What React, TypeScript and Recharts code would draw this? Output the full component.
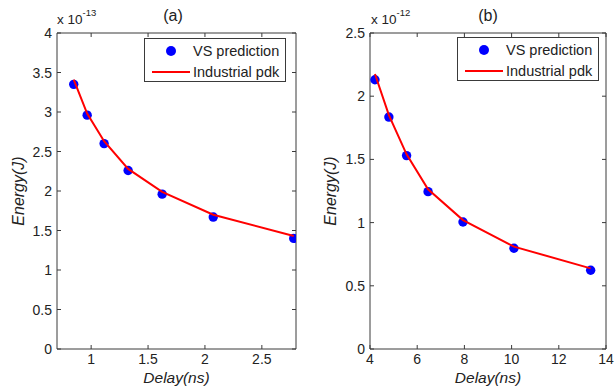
import { ScatterChart, Scatter, XAxis, YAxis, Label } from 'recharts';

// panel (a): energy in units of 1e-13 J
const delayA = [0.847, 0.965, 1.114, 1.325, 1.624, 2.073, 2.78];
const vsA = [3.35, 2.96, 2.6, 2.26, 1.96, 1.67, 1.4];
const pdkA = [3.41, 2.98, 2.63, 2.28, 1.99, 1.7, 1.43];
const xTicksA = [1, 1.5, 2, 2.5];
const yTicksA = [0, 0.5, 1, 1.5, 2, 2.5, 3, 3.5, 4];

// panel (b): energy in units of 1e-12 J
const delayB = [4.21, 4.8, 5.55, 6.46, 7.94, 10.1, 13.35];
const vsB = [2.13, 1.835, 1.53, 1.245, 1.005, 0.797, 0.623];
const pdkB = [2.176, 1.85, 1.54, 1.264, 1.02, 0.81, 0.638];
const xTicksB = [4, 6, 8, 10, 12, 14];
const yTicksB = [0, 0.5, 1, 1.5, 2, 2.5];

const seriesNames = ['VS prediction', 'Industrial pdk'];

const FONT = '"Liberation Sans", Arial, sans-serif';
const AXIS = '#3a3a3a';
const TEXT = '#222';
const DOT = '#0000ff';
const LINE = '#ff0000';
const TICK = 4;

const zip = (xs: number[], ys: number[]) => xs.map((x, i) => ({ x, y: ys[i] }));

function BottomTick({ x, y, payload }: any) {
  return (
    <g>
      <line x1={x} x2={x} y1={y} y2={y - TICK} stroke={AXIS} />
      <text x={x} y={y + 15} textAnchor="middle" fontSize={14} fill={TEXT} fontFamily={FONT}>
        {payload.value}
      </text>
    </g>
  );
}

function LeftTick({ x, y, payload }: any) {
  return (
    <g>
      <line x1={x} x2={x + TICK} y1={y} y2={y} stroke={AXIS} />
      <text x={x - 5} y={y + 5} textAnchor="end" fontSize={14} fill={TEXT} fontFamily={FONT}>
        {payload.value}
      </text>
    </g>
  );
}

const TopTick = ({ x, y }: any) => <line x1={x} x2={x} y1={y} y2={y + TICK} stroke={AXIS} />;
const RightTick = ({ x, y }: any) => <line x1={x} x2={x - TICK} y1={y} y2={y} stroke={AXIS} />;

function YTitle({ viewBox, offset }: any) {
  const cx = viewBox.x + offset;
  const cy = viewBox.y + viewBox.height / 2;
  return (
    <text x={cx} y={cy} transform={`rotate(-90 ${cx} ${cy})`} textAnchor="middle" dominantBaseline="central"
      fontSize={16} fontStyle="italic" fill={TEXT} fontFamily={FONT}>
      Energy(J)
    </text>
  );
}

function XTitle({ viewBox }: any) {
  return (
    <text x={viewBox.x + viewBox.width / 2} y={383} textAnchor="middle"
      fontSize={15.5} fontStyle="italic" fill={TEXT} fontFamily={FONT}>
      Delay(ns)
    </text>
  );
}

function Legend({ left, top }: { left: number; top: number }) {
  return (
    <div style={{
      position: 'absolute', left, top, width: 142, height: 44, boxSizing: 'border-box',
      border: `1px solid ${AXIS}`, background: '#fff', fontFamily: FONT, fontSize: 14.5, color: TEXT,
    }}>
      <div style={{ position: 'absolute', left: 21, top: 7, width: 10, height: 10, borderRadius: 5, background: DOT }} />
      <div style={{ position: 'absolute', left: 48, top: 3, lineHeight: '18px' }}>{seriesNames[0]}</div>
      <div style={{ position: 'absolute', left: 7, top: 32, width: 38, height: 2, background: LINE }} />
      <div style={{ position: 'absolute', left: 48, top: 24, lineHeight: '18px' }}>{seriesNames[1]}</div>
    </div>
  );
}

interface PanelProps {
  left: number;
  width: number;
  yAxisWidth: number;
  marginRight: number;
  labelOffset: number;
  xDomain: [number, number];
  yDomain: [number, number];
  xTicks: number[];
  yTicks: number[];
  delay: number[];
  vs: number[];
  pdk: number[];
}

function Panel(p: PanelProps) {
  return (
    <div style={{ position: 'absolute', left: p.left, top: 0 }}>
      <ScatterChart width={p.width} height={388} margin={{ top: 32, right: p.marginRight, bottom: 0, left: 0 }}>
        <XAxis dataKey="x" type="number" domain={p.xDomain} ticks={p.xTicks} interval={0}
          height={39} tickSize={0} tickMargin={0} tickLine={false} tick={BottomTick}
          axisLine={{ stroke: AXIS }} allowDataOverflow>
          <Label content={XTitle} />
        </XAxis>
        <XAxis xAxisId="top" orientation="top" dataKey="x" type="number" domain={p.xDomain} ticks={p.xTicks}
          interval={0} height={1} tickSize={0} tickMargin={0} tickLine={false} tick={TopTick}
          axisLine={{ stroke: AXIS }} allowDataOverflow />
        <YAxis dataKey="y" type="number" domain={p.yDomain} ticks={p.yTicks} interval={0}
          width={p.yAxisWidth} tickSize={0} tickMargin={0} tickLine={false} tick={LeftTick}
          axisLine={{ stroke: AXIS }} allowDataOverflow>
          <Label content={YTitle} offset={p.labelOffset} />
        </YAxis>
        <YAxis yAxisId="right" orientation="right" dataKey="y" type="number" domain={p.yDomain} ticks={p.yTicks}
          interval={0} width={1} tickSize={0} tickMargin={0} tickLine={false} tick={RightTick}
          axisLine={{ stroke: AXIS }} allowDataOverflow />
        <Scatter name={seriesNames[0]} data={zip(p.delay, p.vs)} fill={DOT}
          shape={(s: any) => <circle cx={s.cx} cy={s.cy} r={4.7} fill={DOT} />}
          isAnimationActive={false} />
        <Scatter name={seriesNames[1]} data={zip(p.delay, p.pdk)} line={{ stroke: LINE, strokeWidth: 2 }}
          shape={() => <g />} isAnimationActive={false} />
      </ScatterChart>
    </div>
  );
}

function Exponent({ left, power }: { left: number; power: number }) {
  return (
    <div style={{ position: 'absolute', left, top: 12, fontFamily: FONT, fontSize: 13.5, color: TEXT, whiteSpace: 'nowrap' }}>
      x 10<span style={{ fontSize: 9.5, position: 'relative', top: -8 }}>{power}</span>
    </div>
  );
}

function Title({ center, text }: { center: number; text: string }) {
  return (
    <div style={{ position: 'absolute', left: center - 20, width: 40, top: 7, textAlign: 'center', fontFamily: FONT, fontSize: 16, color: TEXT }}>
      {text}
    </div>
  );
}

export default function App() {
  return (
    <div style={{ position: 'absolute', left: 0, top: 0, width: 616, height: 388, background: '#fff', overflow: 'hidden' }}>
      <Panel left={0} width={310} yAxisWidth={57} marginRight={13} labelOffset={18}
        xDomain={[0.7, 2.8]} yDomain={[0, 4]} xTicks={xTicksA} yTicks={yTicksA}
        delay={delayA} vs={vsA} pdk={pdkA} />
      <Panel left={310} width={306} yAxisWidth={60} marginRight={9} labelOffset={20}
        xDomain={[4, 14]} yDomain={[0, 2.5]} xTicks={xTicksB} yTicks={yTicksB}
        delay={delayB} vs={vsB} pdk={pdkB} />
      <Exponent left={57} power={-13} />
      <Exponent left={371} power={-12} />
      <Title center={173} text="(a)" />
      <Title center={488} text="(b)" />
      <Legend left={144} top={38} />
      <Legend left={457} top={37} />
    </div>
  );
}
